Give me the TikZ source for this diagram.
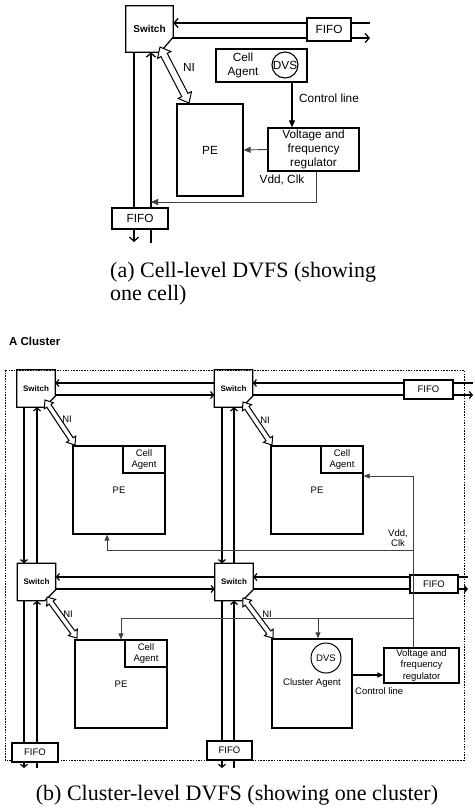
\documentclass[tikz,border=0pt]{standalone}
\usepackage{fontspec}
\setmainfont{Liberation Serif}
\setsansfont{Liberation Sans}
\usetikzlibrary{arrows.meta,calc}
\newcommand\swoutline[3]{\draw[boxline] (#1.north west) -- (#1.north east) -- ([yshift=#2]#1.south east) -- ([xshift=-#3]#1.south east) -- (#1.south west) -- cycle;}
% hollow double arrow between two named coordinates: #1 start, #2 end, #3 shaft half width, #4 head half width, #5 head length, #6 style
\newcommand\niarrow[6]{%
 \coordinate (#1h) at ($(#1)!#5!(#2)$);
 \coordinate (#2h) at ($(#2)!#5!(#1)$);
 \draw[#6] (#1) -- ($(#1h)!#4!90:(#2)$) -- ($(#1h)!#3!90:(#2)$) -- ($(#2h)!#3!-90:(#1)$) -- ($(#2h)!#4!-90:(#1)$) -- (#2) -- ($(#2h)!#4!90:(#1)$) -- ($(#2h)!#3!90:(#1)$) -- ($(#1h)!#3!-90:(#2)$) -- ($(#1h)!#4!-90:(#2)$) -- cycle;}
\begin{document}
\begin{tikzpicture}[x=1pt,y=-1pt,
  boxline/.style={draw, line width=1.2pt},
  fa/.style={font=\sffamily\fontsize{11.8}{14}\selectfont},
  fb/.style={font=\sffamily\fontsize{9.5}{11.5}\selectfont},
  swA/.style={inner sep=0pt, minimum width=47pt, minimum height=46pt, font=\sffamily\bfseries\fontsize{10}{12}\selectfont},
  swB/.style={inner sep=0pt, minimum width=38pt, minimum height=37pt, font=\sffamily\bfseries\fontsize{8}{10}\selectfont},
  boxA/.style={boxline, inner sep=0pt, fa, align=center},
  boxB/.style={boxline, inner sep=0pt, fb, align=center},
  fifo/.style={boxline, fill=white, inner sep=0pt},
  sigA/.style={line width=1.3pt},
  sigB/.style={line width=1.2pt},
  ctlA/.style={line width=0.9pt, black!75},
  ctlB/.style={line width=0.8pt, black!75},
  niar/.style={draw, fill=white, line width=1pt, line join=miter},
  barbA/.tip={Straight Barb[length=4pt,width=9pt]},
  barbB/.tip={Straight Barb[length=3pt,width=7pt]},
  triA/.tip={Triangle[length=7pt,width=6pt]},
  triB/.tip={Triangle[length=6pt,width=5pt]},
]
\useasboundingbox (0,0) rectangle (474,811);

% ---------------- (a) cell level ----------------
\node[swA] (sw) at (149.5,29) {Switch};
\swoutline{sw}{15pt}{13pt}
\coordinate (aR1) at (370,23);
\coordinate (aR2) at (370,38);
\draw[sigA,-barbA] (aR1) -- (aR1 -| sw.east);
\draw[sigA,-barbA] ([xshift=-1pt]aR2 -| sw.east) -- (aR2);
\node[fifo, fa, minimum width=44pt, minimum height=23pt] (fA) at (329,29.5) {FIFO};
\coordinate (aD1) at (134,242);
\coordinate (aU1) at (151,243);
\draw[sigA,-barbA] (aD1 |- sw.south) -- (aD1);
\draw[sigA,-barbA] (aU1) -- (aU1 |- sw.south);
\node[fifo, fa, minimum width=56pt, minimum height=21pt] (fB) at (140,218.5) {FIFO};

\node[boxA, minimum width=66pt, minimum height=92pt] (PEa) at (210,150) {PE};
\coordinate (niA1) at (160,47);
\coordinate (niA2) at (189,103);
\niarrow{niA1}{niA2}{3.5pt}{7.5pt}{9pt}{niar}
\node[fa, inner sep=0pt] (niAl) at (189,67) {NI};

\node[boxA, minimum width=91pt, minimum height=33pt] (ca) at (261.5,65.5) {};
\node[fa, align=center, inner sep=0pt] (caT) at (243,65) {Cell\\Agent};
\node[circle, draw, line width=1.1pt, inner sep=0pt, minimum size=26pt, fa] (dvsA) at (285,65) {DVS};
\node[boxA, minimum width=91pt, minimum height=43pt] (reg) at (313.5,149.5) {Voltage and\\frequency\\regulator};
\coordinate (clA) at (292,100);
\draw[line width=1.1pt,-triA] (ca.south -| clA) -- (reg.north -| clA);
\node[fa, anchor=west, inner sep=0pt] (clAl) at (299,98) {Control line};
\draw[ctlA,-triA] (reg.west) -- (PEa.east);
\coordinate (vA) at (316,202);
\draw[ctlA,-triA] (reg.south -| vA) -- (vA) -- (vA -| aU1);
\node[fa, inner sep=0pt] (vddA) at (282,180) {Vdd, Clk};

\node[anchor=north west, align=left, inner sep=0pt, font=\fontsize{22}{23}\selectfont] (capA) at (110,262) {(a) Cell-level DVFS (showing\\one cell)};

% ---------------- (b) cluster level ----------------
\node[anchor=west, inner sep=0pt, font=\sffamily\bfseries\fontsize{11.5}{13}\selectfont] (title) at (9,341) {A Cluster};
\draw[line width=0.7pt, dash pattern=on 1.5pt off 1.2pt] (5,370) rectangle (464,760);

\node[swB] (S1) at (36,388.5) {Switch};
\node[swB] (S2) at (233.5,388.5) {Switch};
\node[swB] (S3) at (36.5,582) {Switch};
\node[swB] (S4) at (234,582) {Switch};
\swoutline{S1}{11pt}{11pt}
\swoutline{S2}{11pt}{11pt}
\swoutline{S3}{11pt}{11pt}
\swoutline{S4}{11pt}{11pt}

% row 1
\coordinate (r1u) at (473,383);
\coordinate (r1l) at (473,395);
\draw[sigB,-barbB] (S2.west |- r1u) -- (S1.east |- r1u);
\draw[sigB,-barbB] (S1.east |- r1l) -- (S2.west |- r1l);
\draw[sigB,-barbB] (r1u) -- (S2.east |- r1u);
\draw[sigB,-barbB] (S2.east |- r1l) -- (r1l);
% row 2
\coordinate (r2u) at (468,577);
\coordinate (r2l) at (468,589);
\draw[sigB,-barbB] (S4.west |- r2u) -- (S3.east |- r2u);
\draw[sigB,-barbB] (S3.east |- r2l) -- (S4.west |- r2l);
\draw[sigB,-barbB] (r2u) -- (S4.east |- r2u);
\draw[sigB,-barbB] (S4.east |- r2l) -- (r2l);
% column 1
\coordinate (c1l) at (24,768);
\coordinate (c1r) at (37,768);
\draw[sigB,-barbB] (S1.south -| c1l) -- (S3.north -| c1l);
\draw[sigB,-barbB] (S3.north -| c1r) -- (S1.south -| c1r);
\draw[sigB,-barbB] (S3.south -| c1l) -- (c1l);
\draw[sigB,-barbB] (c1r) -- (S3.south -| c1r);
% column 2
\coordinate (c2l) at (222,768);
\coordinate (c2r) at (234,768);
\draw[sigB,-barbB] (S2.south -| c2l) -- (S4.north -| c2l);
\draw[sigB,-barbB] (S4.north -| c2r) -- (S2.south -| c2r);
\draw[sigB,-barbB] (S4.south -| c2l) -- (c2l);
\draw[sigB,-barbB] (c2r) -- (S4.south -| c2r);

% PEs and agents
\node[boxB, minimum width=92pt, minimum height=88pt] (PE1) at (119,490) {PE};
\node[boxB, minimum width=92pt, minimum height=88pt] (PE2) at (317,490) {PE};
\node[boxB, minimum width=92pt, minimum height=88pt] (PE3) at (121,684) {PE};
\node[boxB, minimum width=42pt, minimum height=27pt, anchor=north east] (ca1) at (PE1.north east) {Cell\\Agent};
\node[boxB, minimum width=42pt, minimum height=27pt, anchor=north east] (ca2) at (PE2.north east) {Cell\\Agent};
\node[boxB, minimum width=42pt, minimum height=27pt, anchor=north east] (ca3) at (PE3.north east) {Cell\\Agent};
\node[boxB, minimum width=80pt, minimum height=89pt] (ClA) at (312,683.5) {Cluster Agent};
\node[circle, draw, line width=1pt, inner sep=0pt, minimum size=30pt, fb] (dvsB) at (326,658) {DVS};
\node[boxB, minimum width=75pt, minimum height=35pt] (reg2) at (421.5,665.5) {Voltage and\\frequency\\regulator};

% Vdd / Clk distribution
\coordinate (vx) at (413,476);
\draw[ctlB,-triB] (reg2.north -| vx) -- (vx) -- (PE2.east |- vx);
\coordinate (v1) at (413,550);
\coordinate (v1e) at (107,550);
\draw[ctlB,-triB] (v1) -- (v1e) -- (PE1.south -| v1e);
\coordinate (v2) at (413,618);
\coordinate (v2e) at (121,618);
\draw[ctlB,-triB] (v2) -- (v2e) -- (PE3.north -| v2e);
\coordinate (v3) at (318,618);
\draw[ctlB,-triB] (v3) -- (ClA.north -| v3);
\node[align=center, inner sep=0pt, font=\sffamily\fontsize{9.5}{10.5}\selectfont] (vddB) at (398,538) {Vdd,\\Clk};

% NI links
\coordinate (n1a) at (45,400);  \coordinate (n1b) at (75,445);
\coordinate (n2a) at (243,402); \coordinate (n2b) at (272,445);
\coordinate (n3a) at (47,597);  \coordinate (n3b) at (77,638);
\coordinate (n4a) at (243,598); \coordinate (n4b) at (273,638);
\niarrow{n1a}{n1b}{2.5pt}{5.5pt}{7pt}{niar}
\niarrow{n2a}{n2b}{2.5pt}{5.5pt}{7pt}{niar}
\niarrow{n3a}{n3b}{2.5pt}{5.5pt}{7pt}{niar}
\niarrow{n4a}{n4b}{2.5pt}{5.5pt}{7pt}{niar}
\node[fb, inner sep=0pt] (ni1l) at (67,419) {NI};
\node[fb, inner sep=0pt] (ni2l) at (265,420) {NI};
\node[fb, inner sep=0pt] (ni3l) at (68,614) {NI};
\node[fb, inner sep=0pt] (ni4l) at (267,614) {NI};

% control line
\coordinate (clB) at (0,675);
\draw[sigB,-triB] (ClA.east |- clB) -- (reg2.west |- clB);
\node[fb, anchor=west, inner sep=0pt] (clBl) at (355,691) {Control line};

% FIFOs
\node[fifo, fb, minimum width=49pt, minimum height=19pt] (f1) at (428.5,389.5) {FIFO};
\node[fifo, fb, minimum width=48pt, minimum height=18pt] (f2) at (434,584) {FIFO};
\node[fifo, fb, minimum width=46pt, minimum height=19pt] (f3) at (35,752.5) {FIFO};
\node[fifo, fb, minimum width=45pt, minimum height=19pt] (f4) at (229.5,750.5) {FIFO};
\draw[ctlB] (f2.north -| vx) -- (f2.south -| vx);

\node[anchor=base, inner sep=0pt, font=\fontsize{22}{23}\selectfont] (capB) at (237,800) {(b) Cluster-level DVFS (showing one cluster)};
\end{tikzpicture}
\end{document}
